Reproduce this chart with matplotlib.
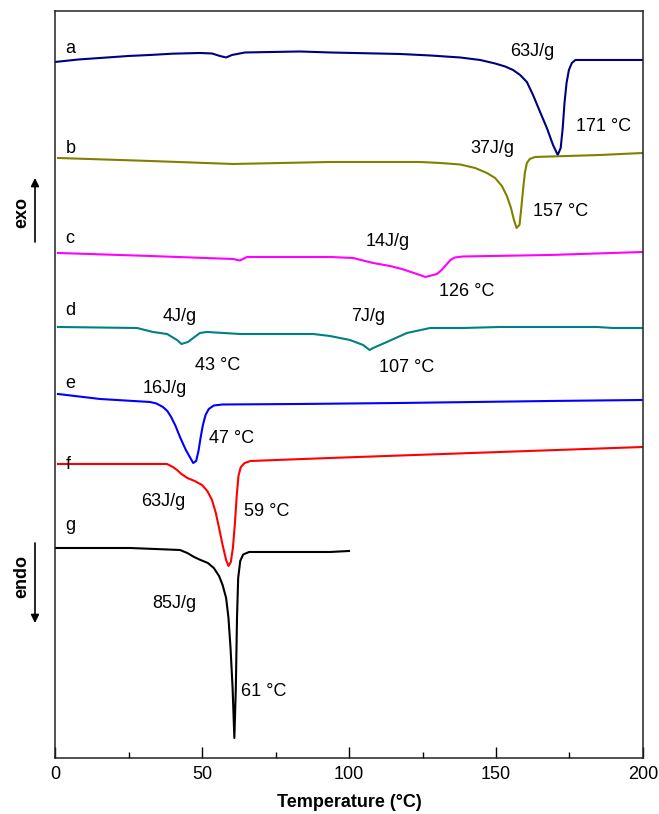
import matplotlib
matplotlib.use("Agg")
import matplotlib.pyplot as plt
from matplotlib.ticker import MultipleLocator

plt.rcParams['font.family'] = ['Liberation Sans', 'DejaVu Sans']

# DSC traces: temperature (°C) and heat flow (arb. units, curves stacked)
a_T = [0, 8, 15.3, 25, 32.3, 40, 49.3, 53.4, 56.1, 58.2, 60.2, 64.6, 83.3, 93.5,
       117.3, 127.6, 137.8, 144.6, 149.7, 153.1, 155.8, 158.2, 160.5, 162.6, 165.0,
       167.3, 169.4, 171.0, 172.0, 172.7, 173.3, 174.0, 174.8, 175.8, 177.0, 200]
a_hf = [696, 698.5, 700, 702, 703, 704.3, 705, 704.5, 702, 700.5, 703, 705.5, 706.5, 705.5,
        704, 702.5, 700.5, 698, 694.5, 691.5, 688, 683, 676, 663, 646,
        630, 613, 603, 610, 630, 655, 675, 688, 695, 698, 698]

b_T = [1.0, 32.3, 60.5, 93.5, 124.1, 131.0, 137.8, 142.9, 146.9, 149.7, 152.0, 153.7,
       155.1, 156.1, 157.0, 158.0, 158.6, 159.2, 159.8, 160.5, 161.5, 163.3, 185.4, 200]
b_hf = [600, 597, 594, 596, 596, 595, 593.5, 590, 585, 580, 572, 562,
        550, 538, 530, 533, 550, 568, 585, 595, 599, 601, 603, 605]

c_T = [1.0, 32.3, 60.5, 62.9, 65.3, 93.5, 101.4, 108.2, 113.9, 118.0, 123.1, 126.0,
       129.9, 131.5, 133.0, 134.5, 136.0, 138.8, 168.4, 200]
c_hf = [505, 502, 499, 497.5, 501, 501, 500, 495, 492, 489, 484, 481,
        484, 488, 493, 498, 500.5, 501.5, 503, 506]

d_T = [1.0, 27.9, 33.3, 38.1, 41.5, 43.0, 45.2, 49.3, 51.7, 62.9, 87.8, 93.5, 100.3,
       104.8, 107.0, 108.2, 112.9, 119.7, 127.6, 138.8, 151.4, 184.4, 189.8, 200]
d_hf = [431, 430, 426, 424, 418, 414, 416, 425, 426, 424, 424, 422, 418,
        413, 408, 410, 416, 425, 430, 430, 431, 431, 430, 430]

e_T = [1.0, 15.3, 32.3, 34.5, 36.7, 38.2, 39.5, 41.0, 42.5, 44.5, 47.0, 48.0, 48.8,
       49.5, 50.3, 51.2, 52.3, 54.0, 57.0, 83.3, 117.3, 168.4, 200]
e_hf = [364, 359, 356, 354.5, 351, 347, 341, 332, 321, 308, 295, 297, 307,
        320, 333, 343, 349, 352.5, 353.5, 354, 355, 357, 358]

f_T = [1.0, 25.5, 38.1, 40.1, 41.5, 43.0, 45.0, 47.5, 50.0, 51.8, 53.4, 54.7, 55.8,
       57.0, 58.2, 59.0, 59.8, 60.5, 61.2, 61.8, 62.4, 63.2, 64.5, 66.5, 93.5,
       151.4, 200]
f_hf = [294, 294, 294, 291, 288, 284, 280, 277, 273, 267, 258, 245, 230,
        213, 198, 192, 196, 210, 235, 262, 282, 291, 295, 297, 300,
        306, 311]

g_T = [0, 25.5, 42.5, 45.0, 47.3, 49.5, 52.0, 54.0, 55.8, 57.0, 58.2, 59.0, 59.7,
       60.4, 61.0, 61.5, 61.9, 62.3, 63.0, 64.0, 66.0, 93.5, 100]
g_hf = [210, 210, 208, 205, 201, 198, 195, 190, 182, 173, 160, 140, 110,
        70, 20, 70, 140, 180, 197, 203.5, 206, 206, 207]

curves = [
    ("a", a_T, a_hf, "#000080"),
    ("b", b_T, b_hf, "#808000"),
    ("c", c_T, c_hf, "#ff00ff"),
    ("d", d_T, d_hf, "#008080"),
    ("e", e_T, e_hf, "#0000ff"),
    ("f", f_T, f_hf, "#ff0000"),
    ("g", g_T, g_hf, "#000000"),
]

# curve letters (baseline heat flow)
letter_hf = [705, 605, 515, 443, 370, 289, 228]

# enthalpy and peak labels: text, T, heat flow
notes = [
    ("63J/g", 162.2, 702), ("171 °C", 186.7, 627),
    ("37J/g", 148.6, 605), ("157 °C", 171.8, 542),
    ("14J/g", 113.3, 512), ("126 °C", 140.1, 462),
    ("7J/g", 106.5, 437), ("107 °C", 119.7, 386),
    ("4J/g", 42.5, 437), ("43 °C", 55.4, 388),
    ("16J/g", 37.4, 365), ("47 °C", 60.2, 315),
    ("63J/g", 36.7, 252), ("59 °C", 72.1, 242),
    ("85J/g", 40.5, 150), ("61 °C", 71.1, 62),
]

fig = plt.figure(figsize=(6.59, 8.14), dpi=100)
ax = fig.add_axes([0.0835, 0.0688, 0.8922, 0.9171])

for (name, T, hf, col), lh in zip(curves, letter_hf):
    ax.plot(T, hf, color=col, lw=1.5, solid_joinstyle='round')
    ax.text(3.5, lh, name, fontsize=13, ha='left', va='baseline')

for s, T, hf in notes:
    ax.text(T, hf, s, fontsize=13, ha='center', va='baseline')

ax.set_xlim(0, 200)
ax.set_ylim(0, 746.5)
ax.xaxis.set_major_locator(MultipleLocator(50))
ax.xaxis.set_minor_locator(MultipleLocator(25))
ax.tick_params(axis='x', which='major', direction='in', length=8, width=1, labelsize=13, pad=6)
ax.tick_params(axis='x', which='minor', direction='in', length=4.5, width=1)
ax.set_yticks([])
for sp in ax.spines.values():
    sp.set_linewidth(1.1)
    sp.set_color('#222222')
ax.set_xlabel("Temperature (°C)", fontsize=13, fontweight='bold', labelpad=8)

# exo / endo direction markers
fig.text(22, 602, "exo", transform=None, rotation=90, fontsize=13, fontweight='bold',
         ha='center', va='center')
fig.text(22, 238, "endo", transform=None, rotation=90, fontsize=13, fontweight='bold',
         ha='center', va='center')
ax.annotate("", xy=(35, 636), xytext=(35, 572), xycoords='figure pixels',
            textcoords='figure pixels',
            arrowprops=dict(arrowstyle='-|>', mutation_scale=12, lw=1.2, color='black',
                            shrinkA=0, shrinkB=0))
ax.annotate("", xy=(35, 191), xytext=(35, 271), xycoords='figure pixels',
            textcoords='figure pixels',
            arrowprops=dict(arrowstyle='-|>', mutation_scale=12, lw=1.2, color='black',
                            shrinkA=0, shrinkB=0))

fig.savefig("out.png", dpi=100)
